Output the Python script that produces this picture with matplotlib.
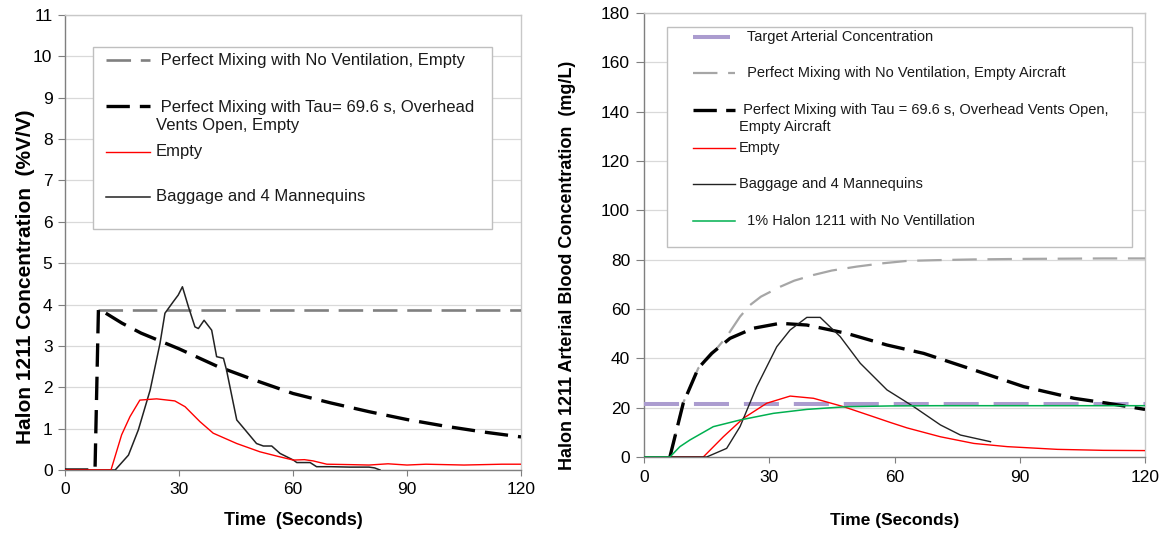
import numpy as np
import matplotlib
matplotlib.use("Agg")
import matplotlib.pyplot as plt
from matplotlib.patches import Rectangle

plt.rcParams['font.family'] = ['Liberation Sans', 'DejaVu Sans']

# ---- left chart: cabin concentration (% V/V) ----
t_nv_l = [8.7, 120]
v_nv_l = [3.87, 3.87]

t_tau_l = [0, 7.9, 8.8, 15, 20, 30, 40, 50, 60, 70, 80, 90, 100, 110, 120]
v_tau_l = [0, 0, 3.9, 3.55, 3.31, 2.93, 2.51, 2.17, 1.85, 1.62, 1.41, 1.22, 1.06, 0.92, 0.80]

t_empty_l = [0, 12.1, 14.9, 17.1, 19.7, 24.1, 28.9, 31.6, 35.5, 39, 45.2, 51.3, 56, 60.1,
             63, 65.3, 68.9, 75, 80, 85, 90, 95, 100, 105, 110, 115, 120]
v_empty_l = [0, 0, 0.85, 1.29, 1.69, 1.72, 1.67, 1.53, 1.17, 0.89, 0.64, 0.44, 0.33, 0.24,
             0.25, 0.22, 0.14, 0.13, 0.12, 0.15, 0.12, 0.14, 0.13, 0.12, 0.13, 0.14, 0.14]

t_bag_l = [0, 13.2, 16.7, 19.3, 22.4, 25, 26.3, 28.5, 29.8, 30.9, 32.5, 34.2, 35.1, 36.6,
           38.6, 39.9, 41.7, 42.5, 44.3, 45.2, 47.4, 50.4, 52.2, 54.4, 56.6, 60.1, 61,
           64.5, 66.2, 70, 75, 80, 81.5, 82.9]
v_bag_l = [0, 0, 0.36, 0.97, 1.93, 3.06, 3.79, 4.07, 4.23, 4.43, 3.94, 3.46, 3.42, 3.62,
           3.38, 2.74, 2.70, 2.42, 1.61, 1.21, 0.97, 0.64, 0.58, 0.58, 0.40, 0.24, 0.18,
           0.18, 0.08, 0.08, 0.07, 0.07, 0.05, 0]

# ---- right chart: arterial blood concentration (mg/L) ----
t_target = [0, 120]
v_target = [21.4, 21.4]

t_nv_r = [6.2, 9.4, 13, 16.2, 19.8, 23, 25.4, 28, 32.6, 36, 40.6, 45, 51, 57, 63, 70,
          79, 90, 100, 110, 120]
v_nv_r = [0, 22, 36, 41.5, 48.8, 56.9, 61.6, 65, 69, 71.5, 73.8, 75.6, 77.2, 78.5, 79.5,
          79.8, 80.1, 80.3, 80.4, 80.5, 80.5]

t_tau_r = [6.2, 9.4, 13, 16.2, 20.6, 26.2, 32.6, 39, 48.6, 58.2, 67, 79, 91, 103, 111, 120]
v_tau_r = [0, 21.8, 36, 42, 48.1, 52.2, 54.2, 53.5, 50.1, 45.4, 42, 35.3, 28.5, 23.8, 21.8, 19.3]

t_empty_r = [0, 14.2, 19, 23.8, 29.4, 35, 40.6, 47.8, 55, 59, 63, 71, 79, 87, 99, 110, 120]
v_empty_r = [0, 0, 8.2, 15.7, 21.8, 24.7, 23.8, 20.4, 16.3, 14, 11.8, 8.2, 5.5, 4.2, 3.1, 2.7, 2.6]

t_bag_r = [0, 15, 19.8, 23, 27, 31.8, 35, 39, 42.2, 47, 51.8, 58.2, 64.6, 71, 75.8, 83]
v_bag_r = [0, 0, 3.5, 12.3, 28.5, 44.7, 51.5, 56.6, 56.6, 48.8, 38, 27.2, 20.4, 13, 8.9, 6.2]

t_halon = [0, 6.2, 8.6, 11, 16.6, 23, 31, 39, 48.6, 59, 70, 80, 90, 100, 110, 120]
v_halon = [0, 0, 4.2, 6.9, 12.3, 15, 17.7, 19.3, 20.4, 20.7, 20.8, 20.8, 20.8, 20.8, 20.8, 20.8]

GRAY = '#808080'
LGRAY = '#a6a6a6'
LAV = '#ab9ccf'
GREEN = '#00b050'


def style_axes(ax, ymax, ystep, tick_len):
    ax.set_xlim(0, 120)
    ax.set_ylim(0, ymax)
    ax.set_xticks([0, 30, 60, 90, 120])
    ax.set_yticks(np.arange(0, ymax + ystep / 2, ystep))
    ax.grid(axis='y', color='#d9d9d9', lw=0.9, zorder=0)
    ax.set_axisbelow(True)
    for s in ['left', 'bottom']:
        ax.spines[s].set_color('#7f7f7f')
        ax.spines[s].set_linewidth(1.0)
    for s in ['top', 'right']:
        ax.spines[s].set_color('#c8c8c8')
        ax.spines[s].set_linewidth(1.0)
    ax.tick_params(axis='y', direction='out', length=tick_len, color='#7f7f7f',
                   labelsize=12.5, pad=4)
    ax.tick_params(axis='x', direction='out', length=4, color='#7f7f7f',
                   labelsize=12.5, pad=5)


def draw_legend(ax, box, entries, fontsize):
    # box = (x0, y0, x1, y1) in axes coords
    x0, y0, x1, y1 = box
    ax.add_patch(Rectangle((x0, y0), x1 - x0, y1 - y0, transform=ax.transAxes,
                           facecolor='white', edgecolor='#bfbfbf', lw=1.0, zorder=5))
    for hx0, hx1, hy, tx, ty, label, kw in entries:
        ax.plot([hx0, hx1], [hy, hy], transform=ax.transAxes, zorder=6, **kw)
        ax.text(tx, ty, label, transform=ax.transAxes, fontsize=fontsize,
                va='center', ha='left', color='#1a1a1a', zorder=6, linespacing=1.25)


fig = plt.figure(figsize=(11.65, 5.33), dpi=100)
ax1 = fig.add_axes([65 / 1165, 1 - 470 / 533, 456 / 1165, 455 / 533])
ax2 = fig.add_axes([644 / 1165, 1 - 457 / 533, 501 / 1165, 444 / 533])

# left panel
style_axes(ax1, 11, 1, 5)
ax1.plot(t_nv_l, v_nv_l, color=GRAY, lw=1.9, dashes=(9.3, 3.7), zorder=3)
ax1.plot(t_tau_l, v_tau_l, color='black', lw=2.4, dashes=(7, 3), zorder=3)
ax1.plot(t_bag_l, v_bag_l, color='#222222', lw=1.1, zorder=4)
ax1.plot(t_empty_l, v_empty_l, color='#ff0000', lw=1.0, zorder=4)
ax1.set_xlabel('Time  (Seconds)', fontsize=13, fontweight='bold')
ax1.xaxis.set_label_coords(0.5, -0.093)
ax1.set_ylabel('Halon 1211 Concentration  (%V/V)', fontsize=15, fontweight='bold')
ax1.yaxis.set_label_coords(-0.066, 0.424)

draw_legend(ax1, (0.062, 0.529, 0.936, 0.930), [
    (0.091, 0.186, 0.901, 0.199, 0.901, ' Perfect Mixing with No Ventilation, Empty',
     dict(color=GRAY, lw=1.9, dashes=(9.3, 3.7))),
    (0.091, 0.186, 0.800, 0.199, 0.778,
     ' Perfect Mixing with Tau= 69.6 s, Overhead\nVents Open, Empty',
     dict(color='black', lw=2.4, dashes=(7, 3))),
    (0.091, 0.186, 0.700, 0.199, 0.700, 'Empty', dict(color='#ff0000', lw=1.0)),
    (0.091, 0.186, 0.601, 0.199, 0.601, 'Baggage and 4 Mannequins',
     dict(color='#222222', lw=1.1)),
], 12)

# right panel
style_axes(ax2, 180, 20, 6)
ax2.plot(t_target, v_target, color=LAV, lw=2.9, dashes=(8.7, 3.7), zorder=3)
ax2.plot(t_nv_r, v_nv_r, color=LGRAY, lw=1.6, dashes=(11, 4.8), zorder=3)
ax2.plot(t_tau_r, v_tau_r, color='black', lw=2.4, dashes=(7, 2.8), zorder=3)
ax2.plot(t_empty_r, v_empty_r, color='#ff0000', lw=1.0, zorder=4)
ax2.plot(t_bag_r, v_bag_r, color='#222222', lw=1.0, zorder=4)
ax2.plot(t_halon, v_halon, color=GREEN, lw=1.1, zorder=4)
ax2.set_xlabel('Time (Seconds)', fontsize=12.5, fontweight='bold')
ax2.xaxis.set_label_coords(0.5, -0.126)
ax2.set_ylabel('Halon 1211 Arterial Blood Concentration  (mg/L)', fontsize=13,
               fontweight='bold')
ax2.yaxis.set_label_coords(-0.136, 0.432)

draw_legend(ax2, (0.0466, 0.472, 0.9735, 0.969), [
    (0.098, 0.172, 0.947, 0.197, 0.947, ' Target Arterial Concentration',
     dict(color=LAV, lw=2.9, solid_capstyle='butt')),
    (0.098, 0.182, 0.864, 0.197, 0.864, ' Perfect Mixing with No Ventilation, Empty Aircraft',
     dict(color=LGRAY, lw=1.6, dashes=(11, 4.8))),
    (0.098, 0.182, 0.782, 0.190, 0.763,
     ' Perfect Mixing with Tau = 69.6 s, Overhead Vents Open,\nEmpty Aircraft',
     dict(color='black', lw=2.4, dashes=(7, 2.8))),
    (0.098, 0.182, 0.697, 0.190, 0.697, 'Empty', dict(color='#ff0000', lw=1.0)),
    (0.098, 0.182, 0.615, 0.190, 0.615, 'Baggage and 4 Mannequins',
     dict(color='#222222', lw=1.0)),
    (0.098, 0.182, 0.532, 0.197, 0.532, ' 1% Halon 1211 with No Ventillation',
     dict(color=GREEN, lw=1.1)),
], 10.5)

fig.savefig('out.png', dpi=100)
